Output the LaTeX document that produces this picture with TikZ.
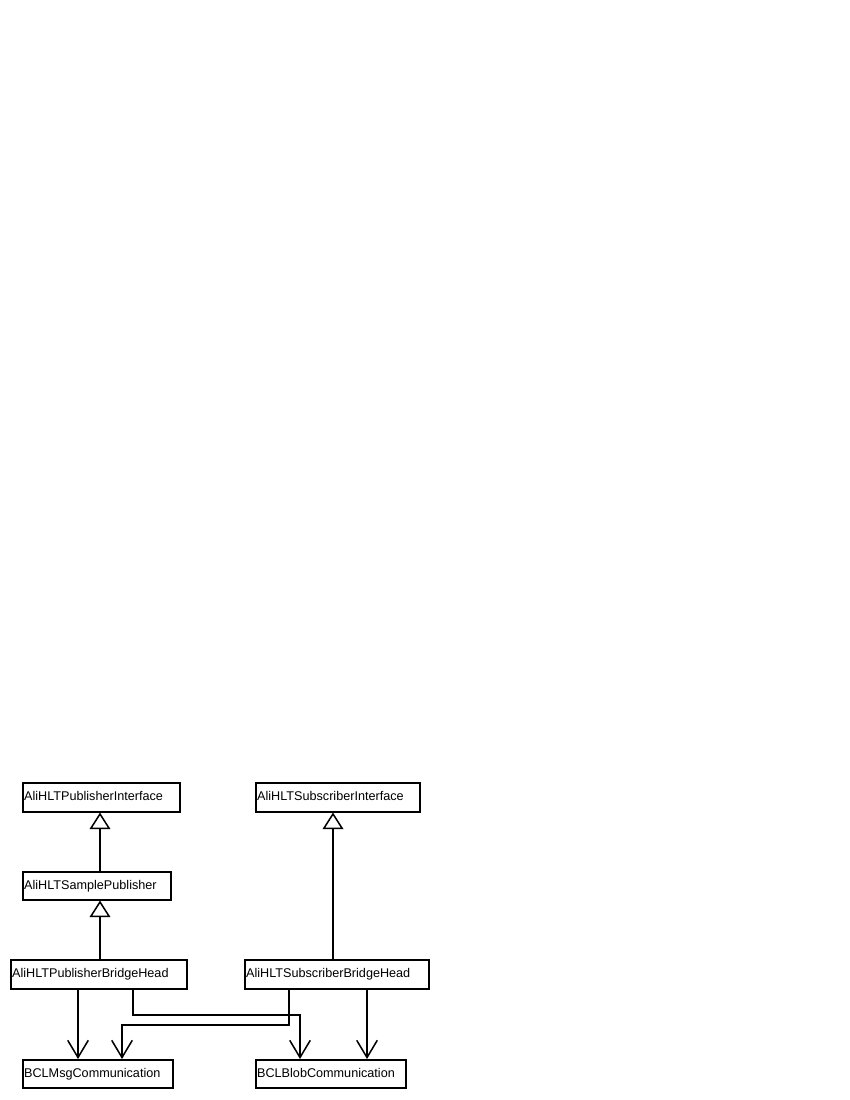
\documentclass[tikz,border=0pt]{standalone}
\usepackage{fontspec}
\setmainfont{Liberation Sans}
\usetikzlibrary{arrows.meta,shadows}
\definecolor{shadowc}{RGB}{40,80,80}
\tikzset{
  cls/.style={draw=black, line width=1.1pt, fill=white, anchor=north west,
    inner xsep=1.0pt, inner ysep=0pt, align=left,
    text height=6.6pt, text depth=1.9pt,
    font=\fontsize{9.1}{10}\selectfont,
    drop shadow={shadow xshift=0.5pt, shadow yshift=-0.5pt, fill=shadowc, opacity=0.8}},
  inh/.style={line width=1.1pt, -{Triangle[open, length=12pt, width=15pt, line width=1.1pt]}},
  assoc/.style={line width=1.1pt, -{Straight Barb[length=12.4pt, width=14.8pt, line width=1.1pt]}},
}
\newcommand{\clsbox}[6]{% name, x1, y1, x2, y2, text
  \node[cls, minimum width={(#4-#2)*0.72pt}, minimum height={(#5-#3)*0.72pt},
        text width={(#4-#2)*0.72pt-2.0pt}] (#1) at (#2,#3) {#6};}
\begin{document}
\begin{tikzpicture}[x=0.72pt, y=-0.72pt]
\useasboundingbox (0,0) rectangle (850,1100);
\clsbox{A}{22}{782}{179}{811}{AliHLTPublisherInterface}
\clsbox{B}{255}{782}{419}{811}{AliHLTSubscriberInterface}
\clsbox{C}{22}{871}{170}{899}{AliHLTSamplePublisher}
\clsbox{D}{10}{959}{186}{988}{AliHLTPublisherBridgeHead}
\clsbox{E}{244}{959}{428}{988}{AliHLTSubscriberBridgeHead}
\clsbox{F}{22}{1059}{172}{1087}{BCLMsgCommunication}
\clsbox{G}{255}{1059}{405}{1087}{BCLBlobCommunication}
\coordinate (x78) at (78,0);
\coordinate (x100) at (100,0);
\coordinate (x122) at (122,0);
\coordinate (x133) at (133,0);
\coordinate (x289) at (289,0);
\coordinate (x300) at (300,0);
\coordinate (x333) at (333,0);
\coordinate (x367) at (367,0);
\coordinate (yA) at (0,1015);
\coordinate (yB) at (0,1025);
% inheritance
\draw[inh] (x100 |- C.north) -- (x100 |- A.south);
\draw[inh] (x100 |- D.north) -- (x100 |- C.south);
\draw[inh] (x333 |- E.north) -- (x333 |- B.south);
% associations
\draw[assoc] (x78 |- D.south) -- (x78 |- F.north);
\draw[assoc] (x133 |- D.south) -- (x133 |- yA) -- (x300 |- yA) -- (x300 |- G.north);
\draw[assoc] (x289 |- E.south) -- (x289 |- yB) -- (x122 |- yB) -- (x122 |- F.north);
\draw[assoc] (x367 |- E.south) -- (x367 |- G.north);
\end{tikzpicture}
\end{document}
